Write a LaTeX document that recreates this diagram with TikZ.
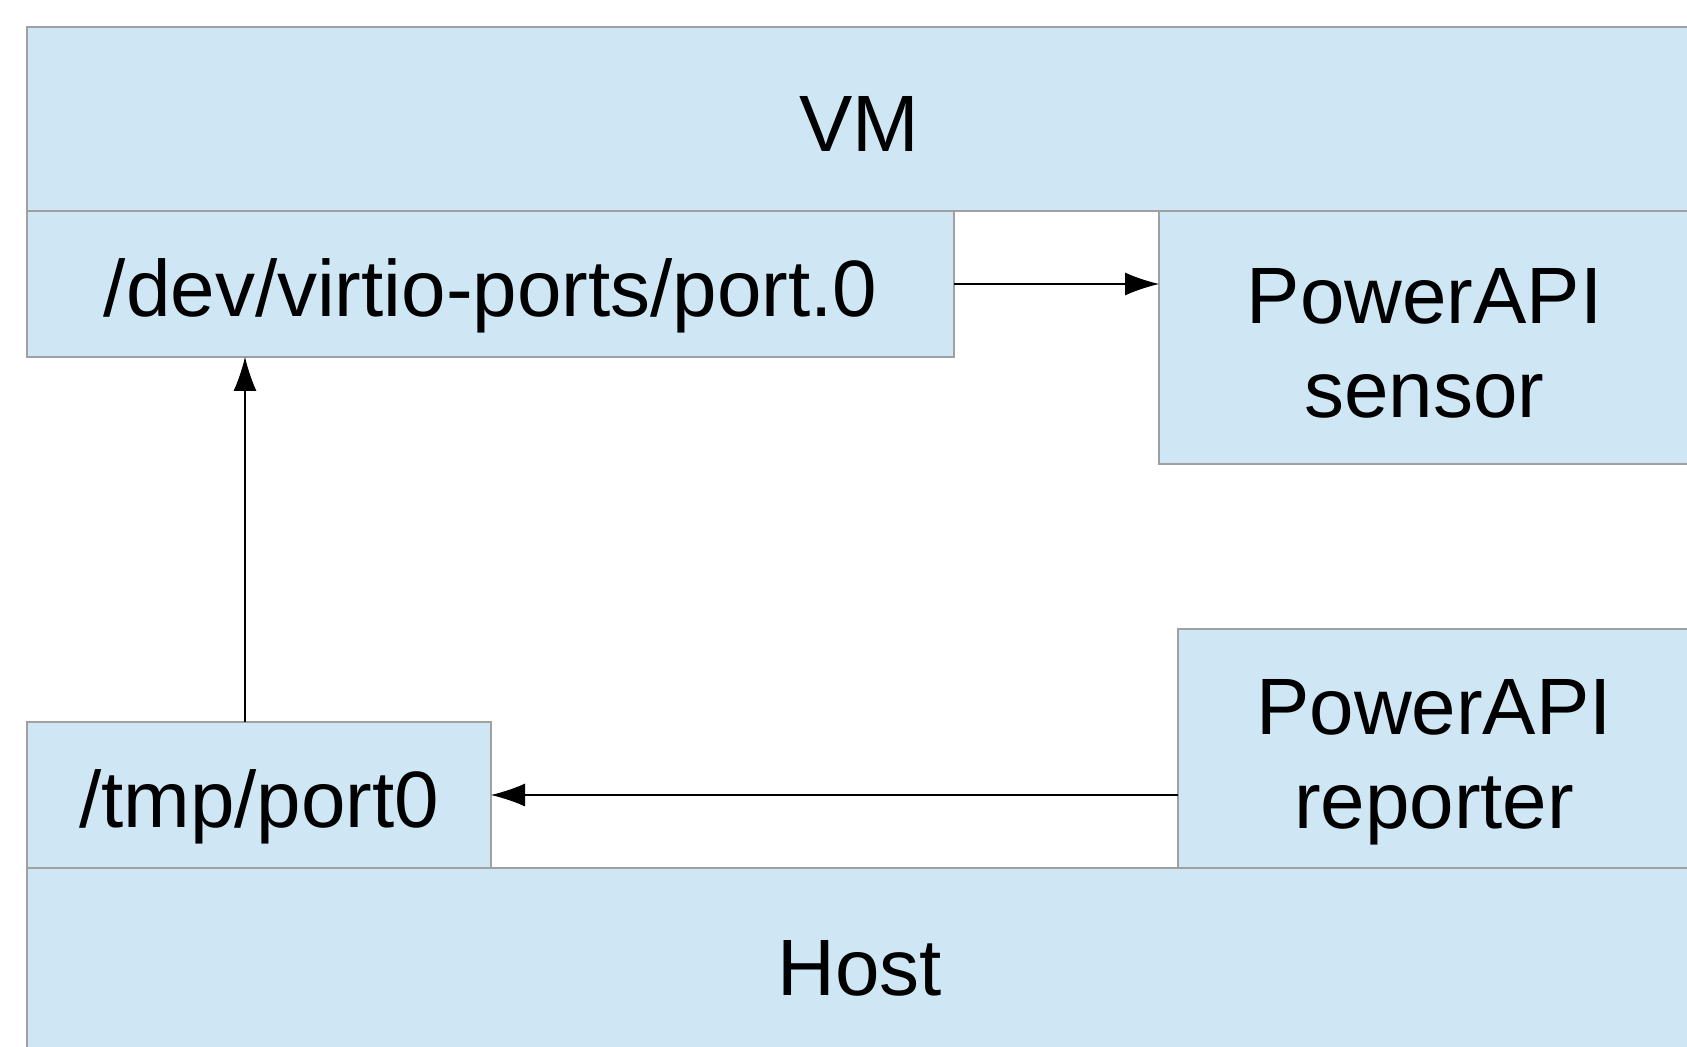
\documentclass[tikz,border=0pt]{standalone}
\usepackage{fontspec}
\setmainfont{Liberation Sans}
\usetikzlibrary{positioning, calc, arrows.meta}
\definecolor{boxfill}{HTML}{CFE6F4}
\definecolor{boxline}{HTML}{A0A0A0}
\newcommand{\twolines}[2]{\raisebox{-8pt}[\height][\depth]{\begin{tabular}{@{}c@{}}#1\\#2\end{tabular}}}
\tikzset{
	box/.style={rectangle, draw=boxline, fill=boxfill, line width=0.8pt, anchor=north west,
		inner sep=0pt, outer sep=0pt, align=center, font=\fontsize{45.5}{54}\selectfont},
	oneline/.style={text height=46pt, text depth=9pt},
	flow/.style={-{Latex[length=0.68cm,width=0.46cm]}, line width=0.6pt}
}
\begin{document}
\begin{tikzpicture}
				\useasboundingbox (0,0) rectangle (33.74,20.92);
				\clip (0,0) rectangle (33.74,20.92);
				\node[box, oneline, minimum width=33.3cm, minimum height=3.68cm] (vm) at (0.54,20.38) {VM};
				\node[box, oneline, minimum width=18.54cm, minimum height=2.92cm] (dev) at (0.54,16.70) {/dev/virtio-ports/port.0};
				\node[box, minimum width=10.62cm, minimum height=5.06cm] (sensor) at (23.18,16.70) {\twolines{PowerAPI}{sensor}};
				\node[box, minimum width=10.24cm, minimum height=4.78cm] (reporter) at (23.56,8.34) {\twolines{PowerAPI}{reporter}};
				\node[box, oneline, minimum width=9.28cm, minimum height=2.92cm] (tmp) at (0.54,6.48) {/tmp/port0};
				\node[box, oneline, minimum width=33.3cm, minimum height=3.8cm] (host) at (0.54,3.56) {Host};
				\draw[flow] (dev.east) -- (dev.east -| sensor.west);
				\draw[flow] ([xshift=-0.28cm]tmp.north) -- ([xshift=-0.28cm]tmp.north |- dev.south);
				\draw[flow] (reporter.west |- tmp.east) -- (tmp.east);
			\end{tikzpicture}
\end{document}
